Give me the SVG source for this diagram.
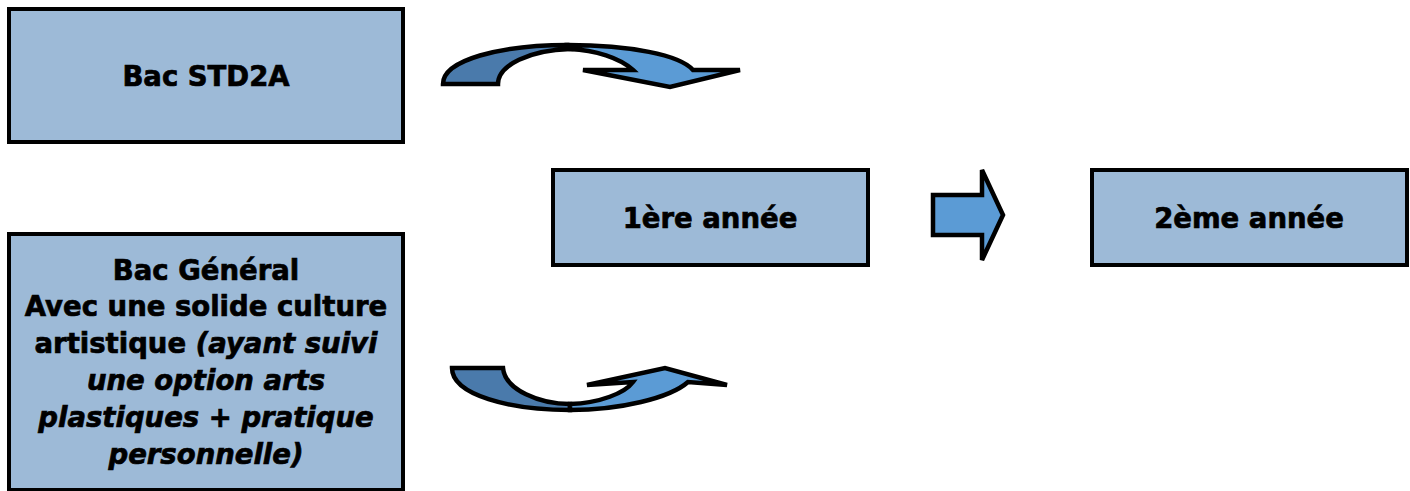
<svg xmlns="http://www.w3.org/2000/svg" width="1410" height="491" viewBox="0 0 1410 491">
<style>
.box{fill:#9dbad7;stroke:#000;stroke-width:4}
.t{font-family:"DejaVu Sans",Verdana,sans-serif;font-weight:bold;font-size:27.5px;fill:#000;stroke:#000;stroke-width:0.7;text-anchor:middle}
.i{font-style:italic}
.dark{fill:#4a7aab;stroke:#000;stroke-width:4.5;stroke-linejoin:miter}
.light{fill:#5b9bd5;stroke:#000;stroke-width:4.5;stroke-linejoin:miter}
</style>
<rect width="1410" height="491" fill="#fff"/>
<g id="bac-std2a">
<rect class="box" x="9" y="9" width="394" height="133"/>
<text class="t" x="206" y="86">Bac STD2A</text>
</g>
<g id="bac-general">
<rect class="box" x="9" y="234" width="394" height="256"/>
<text class="t" x="206" y="280">Bac Général</text>
<text class="t" x="206" y="316">Avec une solide culture</text>
<text class="t" x="206" y="353">artistique <tspan class="i">(ayant suivi</tspan></text>
<text class="t i" x="206" y="390">une option arts</text>
<text class="t i" x="206" y="427">plastiques + pratique</text>
<text class="t i" x="206" y="464">personnelle)</text>
</g>
<g id="annee1">
<rect class="box" x="553" y="170" width="315" height="95"/>
<text class="t" x="710" y="228">1ère année</text>
</g>
<g id="annee2">
<rect class="box" x="1092" y="170" width="315" height="95"/>
<text class="t" x="1249" y="228">2ème année</text>
</g>
<g id="connectors">
<path class="dark" d="M443,84 C443,60 500,45 568,45 L570,49 C530,50 498,65 498,84 Z"/>
<path class="light" d="M568,45 C630,45 680,55 693,70 L740,70 L670,87 L583,70 L633,70 C620,58 595,50 570,49 Z"/>
<path class="dark" d="M452,368 L503,368 C505,390 540,404 570,404 L570,410 C510,410 452,395 452,368 Z"/>
<path class="light" d="M570,404 C600,403 625,393 633,382 L587,385 L665,368 L727,385 L688,382 C670,398 620,410 570,410 Z"/>
<path class="light" d="M933,195 L982,195 L982,170 L1003,215 L982,260 L982,235 L933,235 Z"/>
</g>
</svg>
